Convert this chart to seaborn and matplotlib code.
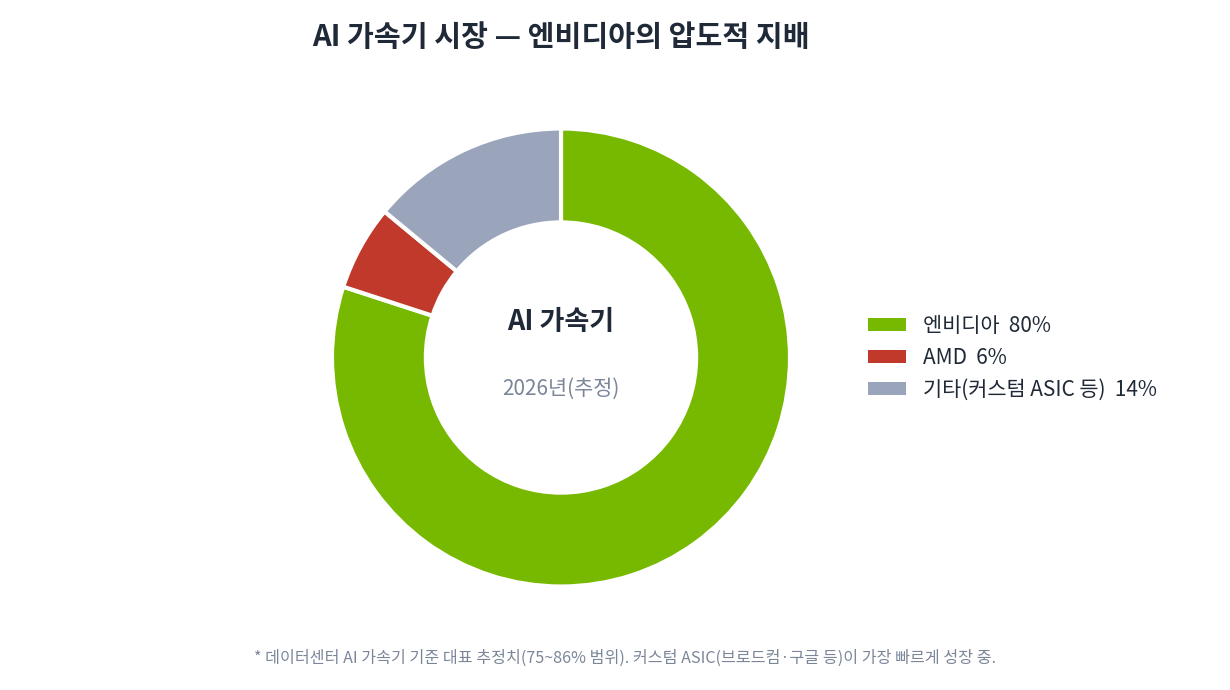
import matplotlib
matplotlib.use("Agg")
import matplotlib.pyplot as plt
import seaborn as sns
from matplotlib.patches import Patch

sns.set_theme(style="white")
plt.rcParams['font.family'] = ['Noto Sans CJK KR', 'DejaVu Sans']

labels = ["엔비디아", "AMD", "기타(커스텀 ASIC 등)"]
values = [80, 6, 14]
colors = ["#76b900", "#c0392b", "#9aa5bb"]
title = "AI 가속기 시장 — 엔비디아의 압도적 지배"
center_main = "AI 가속기"
center_sub = "2026년(추정)"
footnote = "* 데이터센터 AI 가속기 기준 대표 추정치(75~86% 범위). 커스텀 ASIC(브로드컴·구글 등)이 가장 빠르게 성장 중."

W, H = 1230, 690
fig = plt.figure(figsize=(W / 100, H / 100), dpi=100)
fig.patch.set_facecolor("white")

cx, cy, R = 561, 357.5, 229
ax = fig.add_axes([(cx - R) / W, (H - cy - R) / H, 2 * R / W, 2 * R / H])
ax.pie(values, colors=colors, startangle=90, counterclock=False,
       radius=1.0, wedgeprops=dict(width=0.41, edgecolor="white", linewidth=3))
ax.set_xlim(-1, 1)
ax.set_ylim(-1, 1)
ax.set_aspect("equal")
ax.axis("off")

ax.text(0, 0.155, center_main, ha="center", va="center", fontsize=19.5,
        fontweight="bold", color="#1f2937")
ax.text(0, -0.135, center_sub, ha="center", va="center", fontsize=15,
        color="#7b8699")

fig.text(cx / W, 1 - 37 / H, title, ha="center", va="center", fontsize=21,
         fontweight="bold", color="#1f2937")
fig.text(625 / W, 1 - 658 / H, footnote, ha="center", va="center",
         fontsize=11.6, color="#7b8699")

handles = [Patch(facecolor=c, edgecolor="none") for c in colors]
leg_labels = [f"{l}  {v}%" for l, v in zip(labels, values)]
fig.legend(handles, leg_labels, loc="center left",
           bbox_to_anchor=(868 / W, 1 - 358 / H), frameon=False,
           fontsize=15, handlelength=1.83, handleheight=0.58,
           handletextpad=0.82, labelspacing=0.47, labelcolor="#1f2937",
           borderpad=0, borderaxespad=0)

fig.savefig("out.png", dpi=100, facecolor="white")
